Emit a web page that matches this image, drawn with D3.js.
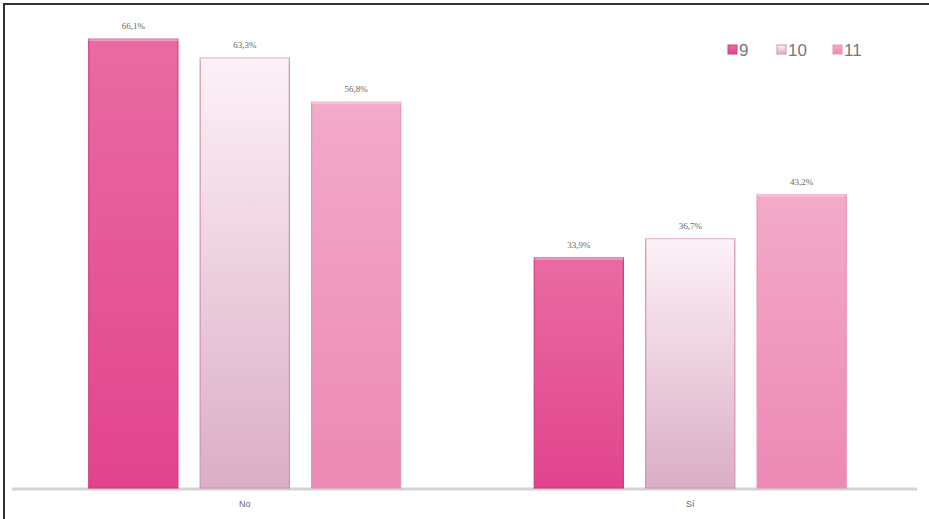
<!DOCTYPE html>
<html><head><meta charset="utf-8">
<script src="https://cdn.jsdelivr.net/npm/d3@7"></script>
<style>body{margin:0;background:#fff}svg{display:block}</style>
</head><body>
<svg id="c" width="929" height="519"></svg>
<script>
const categories = ["No", "Sí"];
const seriesNames = ["9", "10", "11"];
const values9 = [66.1, 33.9];
const values10 = [63.3, 36.7];
const values11 = [56.8, 43.2];
const valueLabels9 = ["66,1%", "33,9%"];
const valueLabels10 = ["63,3%", "36,7%"];
const valueLabels11 = ["56,8%", "43,2%"];

const seriesValues = [values9, values10, values11];
const seriesLabels = [valueLabels9, valueLabels10, valueLabels11];
const styles = [
  {top:"#e96ba2", bottom:"#e2448c", stroke:"#cf3f80"},
  {top:"#fdf1f7", bottom:"#dbaec5", stroke:"#d291b1"},
  {top:"#f3aac8", bottom:"#ec89b4", stroke:"#e595ba"}
];

const svg = d3.select("#c");
const W = 929, H = 519;
const baseY = 488;

// border (left & top)
svg.append("line").attr("x1",4).attr("y1",3).attr("x2",4).attr("y2",H).attr("stroke","#333").attr("stroke-width",2);
svg.append("line").attr("x1",3).attr("y1",4).attr("x2",W).attr("y2",4).attr("stroke","#333").attr("stroke-width",2);

const x0 = d3.scaleBand().domain(categories).range([22, 913]).paddingInner(0).paddingOuter(0);
const x1 = d3.scaleBand().domain(seriesNames).range([67, 67+312]).paddingInner(0.2);
// adjust inner band so group spans 312 px centred in each category band
const groupW = 312;
const inner = d3.scaleBand().domain(seriesNames).range([0, groupW]).paddingInner(0.2).paddingOuter(0);
const y = d3.scaleLinear().domain([0, 66.1]).range([baseY, 39]);

const defs = svg.append("defs");
styles.forEach((s,i)=>{
  const g = defs.append("linearGradient").attr("id","g"+i).attr("x1",0).attr("y1",0).attr("x2",0).attr("y2",1);
  g.append("stop").attr("offset","0%").attr("stop-color",s.top);
  g.append("stop").attr("offset","100%").attr("stop-color",s.bottom);
});

// baseline
svg.append("line").attr("x1",12).attr("x2",917).attr("y1",baseY+1).attr("y2",baseY+1)
  .attr("stroke","#d4d4d4").attr("stroke-width",3);

categories.forEach((cat,ci)=>{
  const gx = x0(cat) + (x0.bandwidth()-groupW)/2;
  seriesNames.forEach((sn,si)=>{
    const v = seriesValues[si][ci];
    const bx = gx + inner(sn);
    const bw = inner.bandwidth();
    svg.append("rect").attr("x",bx).attr("y",y(v)).attr("width",bw).attr("height",baseY-y(v))
      .attr("fill","url(#g"+si+")").attr("stroke",styles[si].stroke).attr("stroke-width",1.2);
    // top highlight
    svg.append("rect").attr("x",bx).attr("y",y(v)-1).attr("width",bw).attr("height",3)
      .attr("fill","#fff").attr("opacity",0.35);
    svg.append("text").attr("x",bx+bw/2).attr("y",y(v)-10).attr("text-anchor","middle")
      .attr("font-family","Liberation Serif, serif").attr("font-size",9).attr("fill","#666")
      .text(seriesLabels[si][ci]);
  });
  svg.append("text").attr("x",x0(cat)+x0.bandwidth()/2).attr("y",507).attr("text-anchor","middle")
    .attr("font-family","Liberation Sans, sans-serif").attr("font-size",9).attr("fill","#666").text(cat);
});

// legend
const legX = [728, 777, 833];
seriesNames.forEach((sn,i)=>{
  svg.append("rect").attr("x",legX[i]).attr("y",45).attr("width",9).attr("height",9)
    .attr("fill","url(#g"+i+")").attr("stroke",styles[i].stroke).attr("stroke-width",1);
  svg.append("text").attr("x",legX[i]+11).attr("y",56)
    .attr("font-family","Liberation Sans, sans-serif").attr("font-size",17).attr("fill","#777").text(sn);
});
</script>
</body></html>
